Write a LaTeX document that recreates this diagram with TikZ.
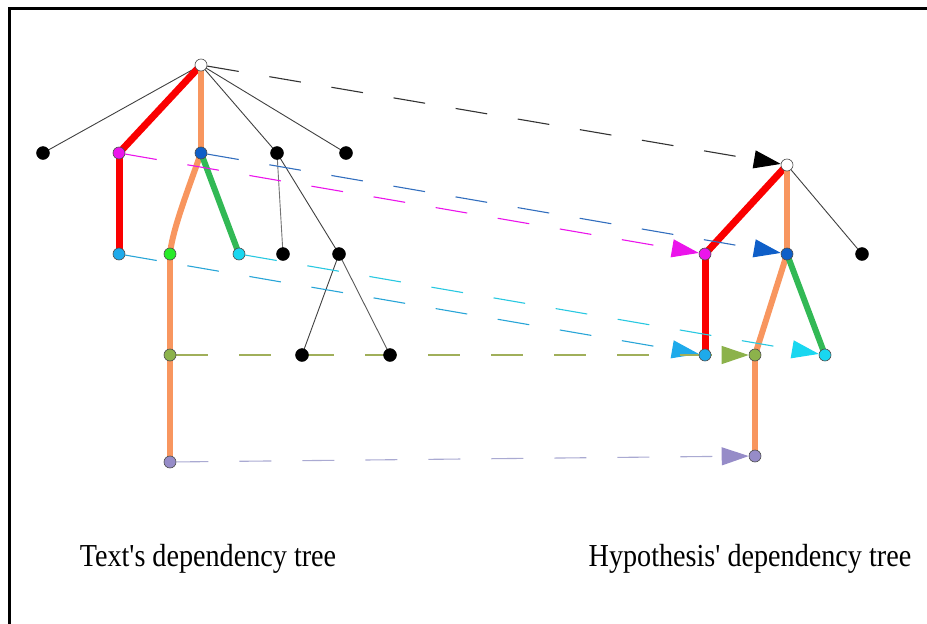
\documentclass[tikz,border=0pt]{standalone}
\usepackage{fontspec}
\newfontfamily\capfont{Liberation Serif}
\usetikzlibrary{arrows.meta,backgrounds}
\definecolor{cMag}{RGB}{235,20,235}
\definecolor{cBlue}{RGB}{15,95,200}
\definecolor{cCyanA}{RGB}{30,170,235}
\definecolor{cCyanB}{RGB}{25,215,240}
\definecolor{cGreenN}{RGB}{40,235,40}
\definecolor{cOlive}{RGB}{140,178,75}
\definecolor{cLav}{RGB}{150,140,200}
\definecolor{cRed}{RGB}{250,0,0}
\definecolor{cOrange}{RGB}{248,150,95}
\definecolor{cGreenE}{RGB}{50,185,85}
\definecolor{lBlue}{RGB}{50,110,190}
\definecolor{lCyanA}{RGB}{40,165,215}
\definecolor{lCyanB}{RGB}{40,200,225}
\definecolor{lOlive}{RGB}{160,175,90}
\definecolor{lLav}{RGB}{170,170,210}
\tikzset{
  nd/.style={circle, draw=black!70, line width=0.6pt, minimum size=12pt, inner sep=0pt},
  blk/.style={circle, fill=black, draw=black, minimum size=13pt, inner sep=0pt},
  thinE/.style={draw=black!75, line width=0.9pt},
  redE/.style={draw=cRed, line width=7pt},
  orE/.style={draw=cOrange, line width=6pt},
  grE/.style={draw=cGreenE, line width=6pt},
  mapA/.style={dash pattern=on 32pt off 31pt, line width=1.1pt, draw=#1,
    -{Triangle[length=27pt,width=18pt]}},
  mapB/.style 2 args={dash pattern=on 32pt off 31pt, line width=1.1pt, draw=#1,
    -{Triangle[length=27pt,width=18pt,color=#2]}},
  captxt/.style={font=\capfont\fontsize{32}{36}\selectfont, anchor=base}
}
\begin{document}
\begin{tikzpicture}[x=1pt,y={(0pt,-1pt)}]
\useasboundingbox (0,0) rectangle (927,624);
\draw[line width=3pt] (9.5,640) -- (9.5,8.5) -- (940,8.5);
% left tree
\node[nd, fill=white] (r) at (201,65) {};
\node[blk] (a1) at (43,153) {};
\node[nd, fill=cMag] (m) at (119,153) {};
\node[nd, fill=cBlue] (b) at (201,153) {};
\node[blk] (c) at (277,153) {};
\node[blk] (d) at (346,153) {};
\node[nd, fill=cCyanA] (c1) at (119,254) {};
\node[nd, fill=cGreenN] (g) at (170,254) {};
\node[nd, fill=cCyanB] (c2) at (239,254) {};
\node[blk] (e) at (283,254) {};
\node[blk] (f) at (339,254) {};
\node[nd, fill=cOlive] (o) at (170,355) {};
\node[blk] (gg) at (302,355) {};
\node[blk] (h) at (390,355) {};
\node[nd, fill=cLav] (l) at (170,462) {};
% right tree
\node[nd, fill=white] (R) at (787,165) {};
\node[nd, fill=cMag] (M) at (705,254) {};
\node[nd, fill=cBlue] (B) at (787,254) {};
\node[blk] (K) at (862,254) {};
\node[nd, fill=cCyanA] (C1) at (705,355) {};
\node[nd, fill=cOlive] (O) at (755,355) {};
\node[nd, fill=cCyanB] (C2) at (825,355) {};
\node[nd, fill=cLav] (L) at (755,456) {};
% captions
\node[captxt] (t1) at (208,566) {\scalebox{0.88}[1]{Text's dependency tree}};
\node[captxt] (t2) at (750,566) {\scalebox{0.88}[1]{Hypothesis' dependency tree}};
\begin{scope}[on background layer]
  % left edges
  \draw[thinE] (r.center) -- (a1.center);
  \draw[thinE] (r.center) -- (c.center);
  \draw[thinE] (r.center) -- (d.center);
  \draw[thinE, draw=black!55] (c.center) -- (e.center);
  \draw[thinE] (c.center) -- (f.center);
  \draw[thinE] (f.center) -- (gg.center);
  \draw[thinE, draw=black!65] (f.center) -- (h.center);
  \draw[redE] (r.center) -- (m.center);
  \draw[redE] (m.center) -- (c1.center);
  \draw[orE] (r.center) -- (b.center);
  \draw[orE] (b.center) .. controls (186,195) and (172,232) .. (g.center);
  \draw[grE] (b.center) -- (c2.center);
  \draw[orE] (g.center) -- (o.center);
  \draw[orE] (o.center) -- (l.center);
  % right edges
  \draw[thinE] (R.center) -- (K.center);
  \draw[redE] (R.center) -- (M.center);
  \draw[redE] (M.center) -- (C1.center);
  \draw[orE] (R.center) -- (B.center);
  \draw[orE] (B.center) -- (O.center);
  \draw[grE] (B.center) -- (C2.center);
  \draw[orE] (O.center) -- (L.center);
  % mapping arrows
  \draw[mapB={black!80}{black}] (r) -- (R);
  \draw[mapA=cMag] (m) -- (M);
  \draw[mapB={lBlue}{cBlue}] (b) -- (B);
  \draw[mapB={lCyanA}{cCyanA}] (c1) -- (C1);
  \draw[mapB={lCyanB}{cCyanB}] (c2) -- (C2);
  \draw[mapB={lOlive}{cOlive}] (o) -- (O);
  \draw[mapB={lLav}{cLav}] (l) -- (L);
\end{scope}
\end{tikzpicture}
\end{document}
